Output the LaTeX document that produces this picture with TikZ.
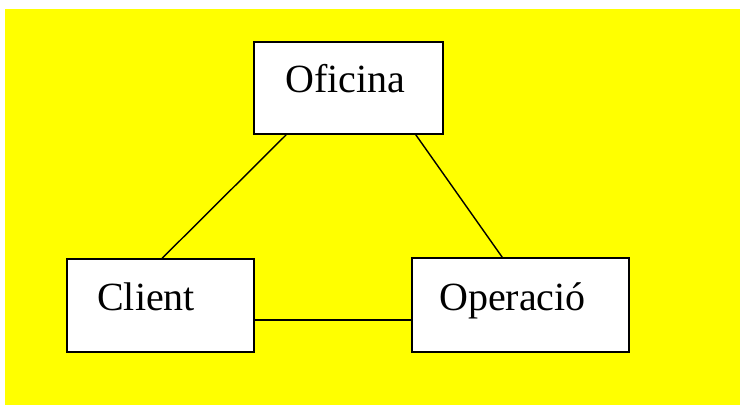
\documentclass[tikz,border=0pt]{standalone}
\usepackage{fontspec}
\setmainfont{Liberation Serif}
\usepackage{tikz}

\definecolor{bgyellow}{RGB}{255,255,0}
\tikzset{
  box/.style={draw, fill=white, line width=1.6pt, inner sep=0pt},
  lbl/.style={inner sep=0pt, anchor=base west, font=\fontsize{40}{47}\selectfont},
  link/.style={line width=1.4pt}
}

\begin{document}
\begin{tikzpicture}[x=1pt, y=-1pt]
  \useasboundingbox (0,0) rectangle (740,405) ;
  \fill[bgyellow] (5,9) rectangle (740,405) ;
  \node[box, minimum width=189pt, minimum height=92pt] (oficina) at (348.5,88) {} ;
  \node[box, minimum width=187pt, minimum height=93pt] (client) at (160.5,305.5) {} ;
  \node[box, minimum width=217pt, minimum height=94pt] (operacio) at (520.5,305) {} ;
  \node[lbl] (oficinaT) at (285,92) {Oficina} ;
  \node[lbl] (clientT) at (97,310) {Client} ;
  \node[lbl] (operacioT) at (439,310) {Operació} ;
  \draw[link] ([xshift=33pt]oficina.south west) -- ([xshift=96pt]client.north west) ;
  \draw[link] ([xshift=-28pt]oficina.south east) -- ([xshift=91pt]operacio.north west) ;
  \draw[link] ([yshift=-14.5pt]client.east) -- ([yshift=-15pt]operacio.west) ;
\end{tikzpicture}
\end{document}
